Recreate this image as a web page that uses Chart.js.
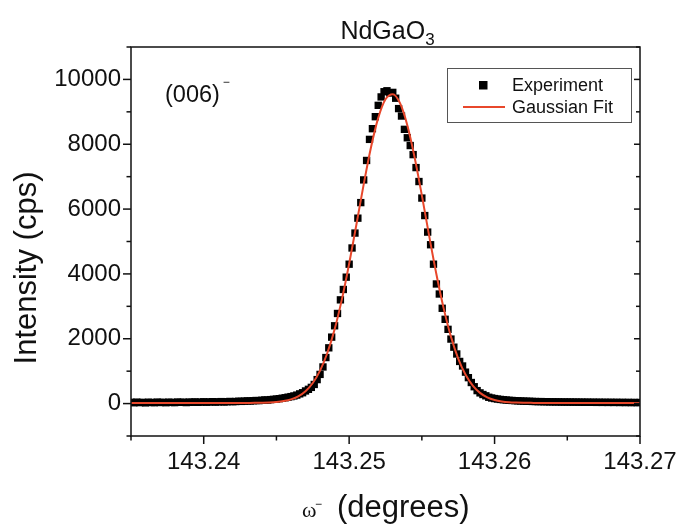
<!DOCTYPE html>
<html><head><meta charset="utf-8">
<script src="https://cdn.jsdelivr.net/npm/chart.js@4/dist/chart.umd.min.js"></script>
<style>html,body{margin:0;padding:0;background:#fff;}canvas{display:block;}</style>
</head><body>
<canvas id="c" width="680" height="524"></canvas>
<script>
// ---- data ----
const expX = [
143.2350,143.2352,143.2354,143.2356,143.2358,143.2360,143.2362,143.2364,143.2366,143.2368,
143.2370,143.2372,143.2374,143.2376,143.2378,143.2380,143.2382,143.2384,143.2386,143.2388,
143.2390,143.2392,143.2394,143.2396,143.2398,143.2400,143.2402,143.2404,143.2406,143.2408,
143.2410,143.2412,143.2414,143.2416,143.2418,143.2420,143.2422,143.2424,143.2426,143.2428,
143.2430,143.2432,143.2434,143.2436,143.2438,143.2440,143.2442,143.2444,143.2446,143.2448,
143.2450,143.2452,143.2454,143.2456,143.2458,143.2460,143.2462,143.2464,143.2466,143.2468,
143.2470,143.2472,143.2474,143.2476,143.2478,143.2480,143.2482,143.2484,143.2486,143.2488,
143.2490,143.2492,143.2494,143.2496,143.2498,143.2500,143.2502,143.2504,143.2506,143.2508,
143.2510,143.2512,143.2514,143.2516,143.2518,143.2520,143.2522,143.2524,143.2526,143.2528,
143.2530,143.2532,143.2534,143.2536,143.2538,143.2540,143.2542,143.2544,143.2546,143.2548,
143.2550,143.2552,143.2554,143.2556,143.2558,143.2560,143.2562,143.2564,143.2566,143.2568,
143.2570,143.2572,143.2574,143.2576,143.2578,143.2580,143.2582,143.2584,143.2586,143.2588,
143.2590,143.2592,143.2594,143.2596,143.2598,143.2600,143.2602,143.2604,143.2606,143.2608,
143.2610,143.2612,143.2614,143.2616,143.2618,143.2620,143.2622,143.2624,143.2626,143.2628,
143.2630,143.2632,143.2634,143.2636,143.2638,143.2640,143.2642,143.2644,143.2646,143.2648,
143.2650,143.2652,143.2654,143.2656,143.2658,143.2660,143.2662,143.2664,143.2666,143.2668,
143.2670,143.2672,143.2674,143.2676,143.2678,143.2680,143.2682,143.2684,143.2686,143.2688,
143.2690,143.2692,143.2694,143.2696,143.2698,143.2700
];
const expY = [
40,25,45,30,38,22,42,35,28,46,
33,40,27,44,36,30,48,38,42,31,
47,40,52,38,45,55,42,50,58,46,
53,61,50,57,66,59,64,72,68,75,
83,79,88,95,92,103,112,108,122,131,
140,152,166,180,198,215,236,262,300,335,
390,440,500,590,740,900,1130,1420,1720,2050,
2400,2780,3200,3520,3900,4300,4800,5260,5720,6200,
6900,7500,8150,8480,8850,9200,9460,9620,9650,9580,
9600,9420,9100,8870,8460,8200,7960,7680,7280,6850,
6340,5800,5290,4900,4300,3690,3380,2940,2600,2290,
1990,1740,1530,1300,1160,970,800,650,520,400,
330,280,240,195,172,155,140,128,118,110,
100,96,90,85,80,76,72,70,66,64,
60,62,56,58,52,55,50,53,47,50,
46,49,44,47,42,45,40,44,38,42,
37,41,36,40,35,39,34,38,33,37,
32,36,31,35,30,34
];
const fitX = [
143.2350,143.2355,143.2360,143.2365,143.2370,143.2375,143.2380,143.2385,143.2390,143.2395,
143.2400,143.2405,143.2410,143.2415,143.2420,143.2425,143.2430,143.2435,143.2440,143.2445,
143.2450,143.2455,143.2460,143.2465,143.2470,143.2475,143.2480,143.2485,143.2490,143.2495,
143.2500,143.2505,143.2510,143.2515,143.2520,143.2525,143.2530,143.2535,143.2540,143.2545,
143.2550,143.2555,143.2560,143.2565,143.2570,143.2575,143.2580,143.2585,143.2590,143.2595,
143.2600,143.2605,143.2610,143.2615,143.2620,143.2625,143.2630,143.2635,143.2640,143.2645,
143.2650,143.2655,143.2660,143.2665,143.2670,143.2675,143.2680,143.2685,143.2690,143.2695,
143.2700
];
const fitY = [
20,20,20,20,20,20,20,20,20,20,
20,20,20,20,20,20,21,22,26,33,
48,77,130,225,383,636,1018,1560,2289,3214,
4313,5526,6763,7901,8814,9388,9546,9267,8588,7599,
6421,5180,3991,2937,2066,1390,895,554,331,193,
112,67,42,31,25,22,21,20,20,20,
20,20,20,20,20,20,20,20,20,20,
20
];
const xTickValues = [143.24, 143.25, 143.26, 143.27];
const xMinorValues = [143.235, 143.245, 143.255, 143.265];
const yTickValues = [0, 2000, 4000, 6000, 8000, 10000];
const yMinorValues = [-1000, 1000, 3000, 5000, 7000, 9000, 11000];
const seriesNames = ['Experiment', 'Gaussian Fit'];
const titleMain = 'NdGaO', titleSub = '3';
const peakLabel = '(006)';
const yTitle = 'Intensity (cps)';
const xTitle = '(degrees)';

const FONT = "'Liberation Sans', Arial, sans-serif";
const RED = '#e8472b';

const expData = expX.map((x, i) => ({x, y: expY[i]}));
const fitData = fitX.map((x, i) => ({x, y: fitY[i]}));

function line(ctx, x1, y1, x2, y2) { ctx.beginPath(); ctx.moveTo(x1, y1); ctx.lineTo(x2, y2); ctx.stroke(); }

const decor = {
  id: 'decor',
  afterDatasetsDraw(chart) {
    const ctx = chart.ctx, a = chart.chartArea, xs = chart.scales.x, ys = chart.scales.y;
    ctx.save();
    ctx.strokeStyle = '#111'; ctx.lineWidth = 1.5;
    ctx.strokeRect(a.left, a.top, a.right - a.left, a.bottom - a.top);
    xTickValues.forEach(v => { const p = xs.getPixelForValue(v); line(ctx, p, a.bottom, p, a.bottom + 8); });
    xMinorValues.forEach(v => { const p = xs.getPixelForValue(v); line(ctx, p, a.bottom, p, a.bottom + 4.5); });
    yTickValues.forEach(v => { const p = ys.getPixelForValue(v); line(ctx, a.left - 8, p, a.left, p); line(ctx, a.right - 6, p, a.right, p); });
    yMinorValues.forEach(v => { const p = ys.getPixelForValue(v); line(ctx, a.left - 4.5, p, a.left, p); line(ctx, a.right - 4, p, a.right, p); });
    ctx.restore();
  },
  afterDraw(chart) {
    const ctx = chart.ctx, a = chart.chartArea;
    ctx.save();
    ctx.fillStyle = '#111';
    ctx.textBaseline = 'alphabetic';
    // title
    ctx.font = '25px ' + FONT;
    const w1 = ctx.measureText(titleMain).width;
    ctx.font = '17px ' + FONT;
    const w2 = ctx.measureText(titleSub).width;
    const cx = (a.left + a.right) / 2 + 2;
    let tx = cx - (w1 + w2) / 2;
    ctx.textAlign = 'left';
    ctx.font = '25px ' + FONT;
    ctx.fillText(titleMain, tx, 39);
    ctx.font = '17px ' + FONT;
    ctx.fillText(titleSub, tx + w1, 45);
    // peak label
    ctx.font = '23.5px ' + FONT;
    ctx.fillText(peakLabel, 165, 102);
    const pw = ctx.measureText(peakLabel).width;
    ctx.font = '12px ' + FONT;
    ctx.fillText('\u2212', 165 + pw + 3, 86);
    // y title
    ctx.save();
    ctx.translate(36, 268);
    ctx.rotate(-Math.PI / 2);
    ctx.textAlign = 'center';
    ctx.font = '31px ' + FONT;
    ctx.fillText(yTitle, 0, 0);
    ctx.restore();
    // x title
    ctx.textAlign = 'left';
    ctx.font = "22px 'Liberation Serif', 'Times New Roman', serif";
    ctx.fillText('\u03c9', 302, 517);
    ctx.font = '12px ' + FONT;
    ctx.fillText('\u2212', 315, 508);
    ctx.font = '31px ' + FONT;
    ctx.fillText(xTitle, 337, 517);
    // legend
    ctx.fillStyle = '#fff';
    ctx.fillRect(447, 68, 185, 55);
    ctx.strokeStyle = '#555'; ctx.lineWidth = 1;
    ctx.strokeRect(447.5, 68.5, 184, 54);
    ctx.fillStyle = '#000';
    ctx.fillRect(479, 81, 8.5, 8.5);
    ctx.strokeStyle = RED; ctx.lineWidth = 2;
    line(ctx, 463, 107, 505, 107);
    ctx.fillStyle = '#111';
    ctx.font = '18px ' + FONT;
    ctx.textBaseline = 'middle';
    ctx.fillText(seriesNames[0], 512, 86);
    ctx.fillText(seriesNames[1], 512, 108);
    ctx.restore();
  }
};

new Chart(document.getElementById('c'), {
  type: 'scatter',
  data: {
    datasets: [
      { label: seriesNames[1], data: fitData, showLine: true, borderColor: RED, borderWidth: 2,
        pointRadius: 0, cubicInterpolationMode: 'monotone', order: 0 },
      { label: seriesNames[0], data: expData, showLine: false, pointStyle: 'rect', pointRadius: 5.2,
        pointBackgroundColor: '#000', pointBorderWidth: 0, order: 1 }
    ]
  },
  options: {
    responsive: false, animation: false, events: [],
    layout: { padding: { top: 47, right: 40, bottom: 0, left: 0 } },
    plugins: { legend: { display: false }, tooltip: { enabled: false }, title: { display: false } },
    scales: {
      x: {
        type: 'linear', min: 143.235, max: 143.27,
        afterBuildTicks: s => { s.ticks = xTickValues.map(v => ({ value: v })); },
        afterFit: s => { s.height = 88; s.paddingLeft = 0; s.paddingRight = 0; },
        grid: { display: false, drawTicks: false }, border: { display: false },
        ticks: { font: { family: FONT, size: 24 }, color: '#111', padding: 12, maxRotation: 0,
          callback: v => v.toFixed(2) }
      },
      y: {
        type: 'linear', min: -1000, max: 11000,
        afterBuildTicks: s => { s.ticks = yTickValues.map(v => ({ value: v })); },
        afterFit: s => { s.width = 131; s.paddingTop = 0; s.paddingBottom = 0; },
        grid: { display: false, drawTicks: false }, border: { display: false },
        ticks: { font: { family: FONT, size: 24 }, color: '#111', padding: 10,
          callback: v => String(v) }
      }
    }
  },
  plugins: [decor]
});
</script>
</body></html>
